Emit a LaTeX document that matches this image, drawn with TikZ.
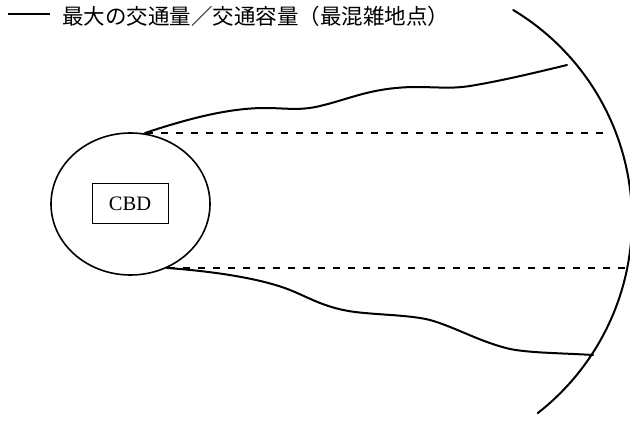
\documentclass[tikz,border=0pt]{standalone}
\usepackage{fontspec}
\setmainfont{Liberation Serif}
\newfontfamily\jpfont{Noto Sans CJK JP}
\usetikzlibrary{shapes.geometric}
\begin{document}
\begin{tikzpicture}[x=1pt,y=-1pt,
  curve/.style={line width=2pt, line cap=round, line join=round},
  dashline/.style={line width=2pt, dash pattern=on 7pt off 8pt},
  zone/.style={draw, ellipse, line width=1.6pt, inner sep=0pt},
  label/.style={draw, line width=1pt, inner sep=0pt},
]
\useasboundingbox (0,0) rectangle (630,425);
\clip (0,0) rectangle (630,425);
\fill[white] (0,0) rectangle (630,425);

% legend
\coordinate (legA) at (8,14);
\coordinate (legB) at (50,14);
\draw[line width=1.4pt] (legA) -- (legB);
\node[anchor=west, inner sep=0pt, font=\jpfont\fontsize{21.5}{23}\selectfont] (legtext) at (62,16)
  {最大の交通量／交通容量（最混雑地点）};

% CBD zone
\node[zone, minimum width=159pt, minimum height=142pt] (zone) at (130.5,204) {};
\node[label, minimum width=76pt, minimum height=40pt, font=\fontsize{20.5}{22}\selectfont] (cbd) at (130,204) {CBD};

% outer boundary arc
\draw[curve] plot[domain=-59:52, samples=80] ({387+245*cos(\x)}, {220+245*sin(\x)});

% dashed lines
\coordinate (du1) at (146,133);
\coordinate (du2) at (607,133);
\coordinate (dl1) at (168,268);
\coordinate (dl2) at (632,268);
\draw[dashline] (du1) -- (du2);
\draw[dashline] (dl1) -- (dl2);

% upper curve
\coordinate (uA) at (145,133);
\coordinate (uB) at (567,65);
\draw[curve] (uA) .. controls (190,118) and (230,108) .. (265,108)
  .. controls (285,108) and (300,111) .. (320,106)
  .. controls (350,99) and (370,88) .. (413,87)
  .. controls (440,87) and (450,89) .. (470,86)
  .. controls (500,81) and (530,74) .. (uB);

% lower curve
\coordinate (lA) at (167,268);
\coordinate (lB) at (593,355);
\draw[curve] (lA) .. controls (210,271) and (260,278) .. (290,290)
  .. controls (310,298) and (325,308) .. (355,312)
  .. controls (380,315) and (410,315) .. (430,320)
  .. controls (455,327) and (480,342) .. (510,349)
  .. controls (530,353) and (560,353) .. (lB);
\end{tikzpicture}
\end{document}
